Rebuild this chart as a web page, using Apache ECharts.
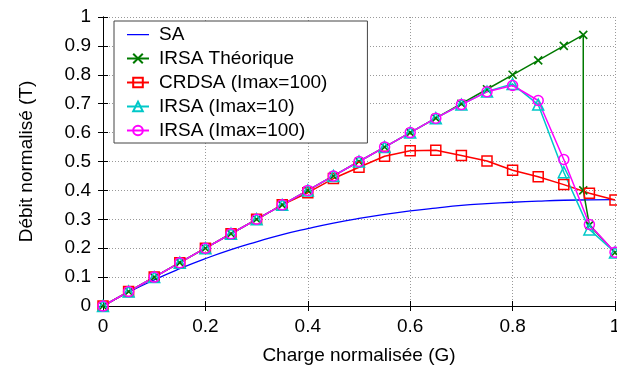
<!DOCTYPE html>
<html>
<head>
<meta charset="utf-8">
<script src="https://cdn.jsdelivr.net/npm/echarts@6/dist/echarts.min.js"></script>
<style>html,body{margin:0;padding:0;background:#fff}#c{width:617px;height:367px}</style>
</head>
<body>
<div id="c"></div>
<script>
var xTicks = [0, 0.2, 0.4, 0.6, 0.8, 1];
var yTicks = [0, 0.1, 0.2, 0.3, 0.4, 0.5, 0.6, 0.7, 0.8, 0.9, 1];
var G = [0, 0.05, 0.1, 0.15, 0.2, 0.25, 0.3, 0.35, 0.4, 0.45, 0.5, 0.55, 0.6, 0.65, 0.7, 0.75, 0.8, 0.85, 0.9, 0.95, 1];
var saVals = [0, 0.0476, 0.0905, 0.129, 0.164, 0.195, 0.222, 0.247, 0.268, 0.287, 0.303, 0.317, 0.329, 0.339, 0.348, 0.354, 0.359, 0.363, 0.366, 0.367, 0.368];
var irsaThX = [0, 0.05, 0.1, 0.15, 0.2, 0.25, 0.3, 0.35, 0.4, 0.45, 0.5, 0.55, 0.6, 0.65, 0.7, 0.75, 0.8, 0.85, 0.9, 0.938, 0.938, 0.95, 1];
var irsaThY = [0, 0.05, 0.1, 0.15, 0.2, 0.25, 0.3, 0.35, 0.4, 0.45, 0.5, 0.55, 0.6, 0.65, 0.7, 0.75, 0.8, 0.85, 0.9, 0.938, 0.40, 0.28, 0.185];
var crdsaVals = [0, 0.05, 0.1, 0.15, 0.2, 0.25, 0.3, 0.35, 0.392, 0.441, 0.48, 0.518, 0.537, 0.539, 0.521, 0.502, 0.47, 0.447, 0.42, 0.39, 0.367];
var irsa10Vals = [0, 0.05, 0.1, 0.15, 0.2, 0.25, 0.3, 0.35, 0.4, 0.45, 0.5, 0.55, 0.6, 0.65, 0.697, 0.742, 0.768, 0.697, 0.463, 0.265, 0.185];
var irsa100Vals = [0, 0.05, 0.1, 0.15, 0.2, 0.25, 0.3, 0.35, 0.4, 0.45, 0.5, 0.55, 0.6, 0.65, 0.697, 0.741, 0.763, 0.711, 0.507, 0.282, 0.186];

function pairs(xs, ys) { return xs.map(function (x, i) { return [x, ys[i]]; }); }

var FONT = '"Liberation Sans", Arial, sans-serif';
var FS = 19;
var chart = echarts.init(document.getElementById('c'), null, {renderer: 'canvas'});
var crossPath = 'path://M0,0L10,10M10,0L0,10';
var lineOnlyIcon = 'path://M0,0h0.01v0.01h-0.01zM0,5.4h22v1.3h-22zM21.99,11.99h0.01v0.01h-0.01z';

function baseAxis(extra) {
  var a = {
    type: 'value', min: 0, max: 1,
    axisLine: {show: true, lineStyle: {color: '#000', width: 1}},
    axisTick: {show: true, inside: true, length: 5, lineStyle: {color: '#000'}},
    splitLine: {show: false},
    axisLabel: {show: false}
  };
  for (var k in extra) a[k] = extra[k];
  return a;
}

var option = {
  animation: false,
  backgroundColor: '#fff',
  textStyle: {fontFamily: FONT},
  grid: {left: 103, right: 2, top: 17, bottom: 61, show: false, containLabel: false, outerBoundsMode: 'none'},
  legend: {
    orient: 'vertical', left: 114, top: 21,
    backgroundColor: '#fff', borderColor: '#444', borderWidth: 1,
    padding: [4, 40, 3, 12],
    itemWidth: 22, itemHeight: 12, itemGap: 5,
    textStyle: {fontSize: FS, color: '#000', fontFamily: FONT, padding: [0, 0, 0, 5], lineHeight: 19},
    data: [{name: 'SA', icon: lineOnlyIcon, itemStyle: {color: '#0000ff', borderWidth: 0}}, 'IRSA Théorique', 'CRDSA (Imax=100)', 'IRSA (Imax=10)', 'IRSA (Imax=100)']
  },
  xAxis: [
    baseAxis({
      position: 'bottom', interval: 0.2,
      name: 'Charge normalisée (G)', nameLocation: 'middle', nameGap: 40,
      nameTextStyle: {fontSize: FS, color: '#000', fontFamily: FONT},
      axisLabel: {show: true, fontSize: FS, color: '#000', margin: 11, fontFamily: FONT,
        formatter: function (v) { var r = Math.round(v * 10) / 10; return xTicks.indexOf(r) >= 0 ? String(r) : ''; }},
      splitLine: {show: true, lineStyle: {color: '#999', type: [1, 2], width: 1}}
    }),
    baseAxis({position: 'top', interval: 0.2})
  ],
  yAxis: [
    baseAxis({
      position: 'left', interval: 0.1,
      name: 'Débit normalisé (T)', nameLocation: 'middle', nameGap: 67,
      nameTextStyle: {fontSize: FS, color: '#000', fontFamily: FONT},
      axisLabel: {show: true, fontSize: FS, color: '#000', margin: 12, fontFamily: FONT,
        formatter: function (v) { var r = Math.round(v * 10) / 10; return yTicks.indexOf(r) >= 0 ? String(r) : ''; }},
      splitLine: {show: true, lineStyle: {color: '#999', type: [1, 2], width: 1}}
    }),
    baseAxis({position: 'right', interval: 0.1})
  ],
  series: [
    {
      name: 'SA', type: 'line', smooth: true, showSymbol: false, symbol: 'none',
      data: pairs(G, saVals),
      lineStyle: {color: '#0000ff', width: 1.3},
      itemStyle: {color: '#0000ff'}
    },
    {
      name: 'IRSA Théorique', type: 'line', symbol: crossPath, symbolSize: 8,
      data: pairs(irsaThX, irsaThY),
      lineStyle: {color: '#007a00', width: 1.5},
      itemStyle: {color: 'rgba(0,0,0,0)', borderColor: '#007a00', borderWidth: 1.6}
    },
    {
      name: 'CRDSA (Imax=100)', type: 'line', symbol: 'rect', symbolSize: 10,
      data: pairs(G, crdsaVals),
      lineStyle: {color: '#ff0000', width: 1.5},
      itemStyle: {color: 'rgba(0,0,0,0)', borderColor: '#ff0000', borderWidth: 1.5}
    },
    {
      name: 'IRSA (Imax=10)', type: 'line', symbol: 'triangle', symbolSize: 11,
      data: pairs(G, irsa10Vals),
      lineStyle: {color: '#00c8c8', width: 1.5},
      itemStyle: {color: 'rgba(0,0,0,0)', borderColor: '#00c8c8', borderWidth: 1.5}
    },
    {
      name: 'IRSA (Imax=100)', type: 'line', symbol: 'circle', symbolSize: 10,
      data: pairs(G, irsa100Vals),
      lineStyle: {color: '#ff00ff', width: 1.5},
      itemStyle: {color: 'rgba(0,0,0,0)', borderColor: '#ff00ff', borderWidth: 1.5}
    }
  ]
};
chart.setOption(option);
</script>
</body>
</html>
